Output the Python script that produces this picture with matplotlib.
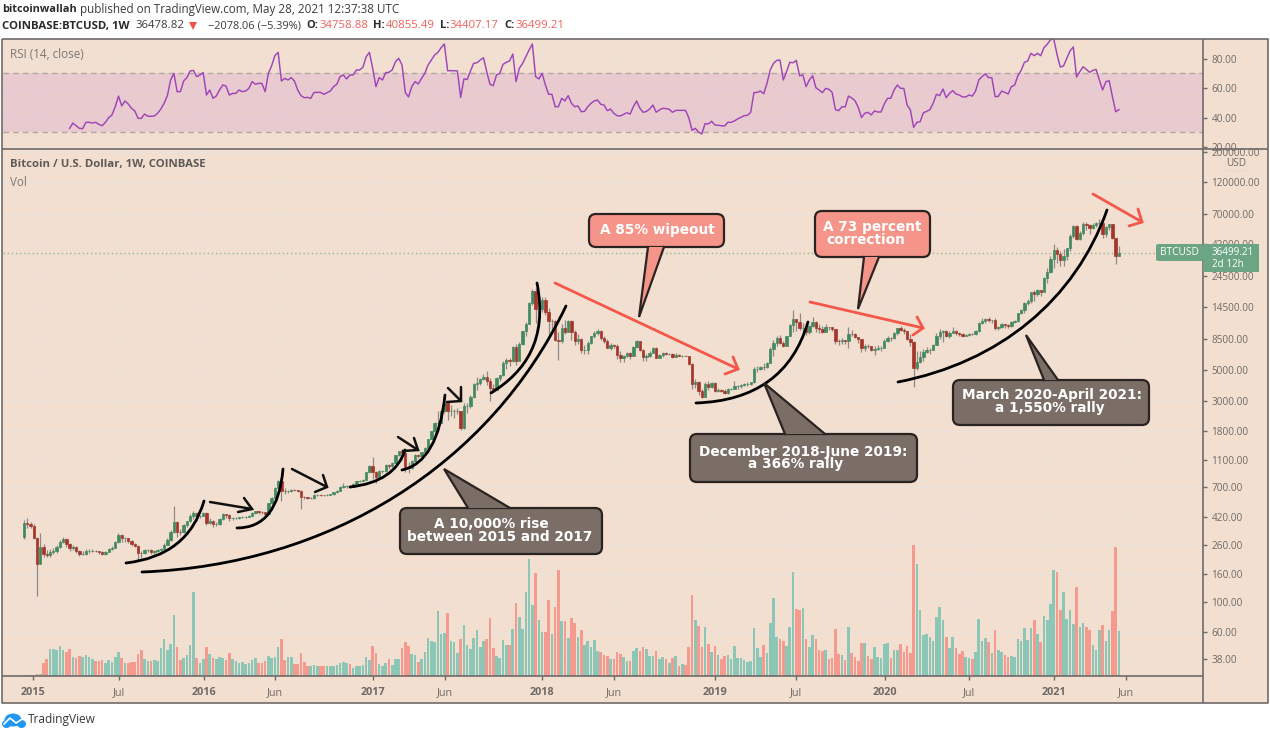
import matplotlib
matplotlib.use("Agg")
import matplotlib.pyplot as plt
import numpy as np
from matplotlib.path import Path
from matplotlib.patches import PathPatch, FancyBboxPatch, Polygon, Ellipse, Rectangle
from matplotlib.ticker import FixedLocator, FormatStrFormatter, NullLocator

plt.rcParams['font.family'] = ['Open Sans', 'DejaVu Sans']

first_open = 300
closes = [
380,372,360,295,190,255,226,222,232,238,
255,275,288,265,250,255,237,224,226,236,
238,238,236,232,226,233,245,250,275,310,
292,292,280,265,258,230,228,240,240,232,
235,240,246,262,285,325,385,328,325,365,
390,430,450,425,430,450,380,395,370,375,
405,440,436,410,412,415,418,420,422,428,
450,462,458,455,445,530,575,690,765,655,
650,650,665,660,655,590,585,575,578,610,
610,607,605,612,618,640,655,700,705,705,
700,735,765,775,790,900,1000,900,825,920,
920,1015,1000,1050,1190,1270,1230,970,960,1090,
1190,1180,1250,1350,1570,1800,2050,2050,2500,2900,
2500,2500,2500,2500,1900,2750,2750,3200,4000,4050,
4350,4500,4200,3700,3600,4400,4600,5700,6000,5900,
7400,5900,7800,9700,11000,15500,19000,14000,14000,16500,
13500,11500,11500,8300,8200,10300,9600,11500,9500,8200,
8500,7000,7000,8000,8900,9400,9700,8700,8200,7350,
7700,7500,6500,6200,6400,6700,6350,7400,8200,7000,
6300,6400,6700,7300,6200,6500,6700,6600,6600,6300,
6500,6400,6400,6350,5600,4000,4100,3500,3200,4000,
3800,4030,3550,3600,3550,3420,3650,3650,3830,3850,
3920,4000,4000,4100,5150,5150,5300,5250,5700,7200,
8000,8700,8000,7600,8950,10800,11900,11400,10300,10300,
9500,10500,11300,10300,10100,9600,10400,10350,10000,8200,
8150,8300,8200,9250,9200,8800,8500,7300,7550,7500,
7100,7150,7300,7350,8200,8700,8600,9350,10150,9900,
9700,8500,8050,5200,5800,6250,6850,7000,7100,7700,
8900,9500,9700,8900,9450,9700,9450,9300,9000,9070,
9240,9200,9700,11100,11600,11850,11650,11700,10250,10450,
10950,10750,10670,11300,11500,13100,13760,15500,16100,18700,
18200,19400,18800,23800,26500,33000,38200,36000,32300,34300,
39200,48600,57500,46300,51000,59000,58000,55800,58000,60000,
60000,50100,56600,58800,46800,34758.88,36499.21]

highs = [
400,410,385,375,300,320,265,240,245,250,
262,285,300,295,272,262,258,240,236,245,
246,243,242,238,235,238,250,256,282,318,
316,300,296,285,272,262,236,244,246,243,
240,245,250,270,295,335,505,390,340,372,
395,440,465,460,437,460,455,410,400,385,
412,448,445,440,420,420,422,425,425,432,
455,468,465,462,458,535,585,700,790,770,
680,665,670,675,665,660,595,590,585,615,
620,615,612,618,622,645,660,705,740,715,
715,740,775,780,795,905,1010,1150,910,925,
930,1025,1030,1060,1200,1290,1330,1260,1060,1100,
1210,1210,1265,1360,1580,1810,2090,2500,2520,2980,
3000,2800,2620,2650,2530,2900,2880,3280,4050,4480,
4400,4700,4980,4400,3980,4450,4650,5850,6200,6180,
7500,7850,8100,9800,11400,16000,19900,20000,16500,17200,
17200,14300,12000,11800,9500,10900,11800,11700,11700,9900,
9200,8700,7700,8200,9000,9800,10000,9900,8880,8500,
7900,7800,7750,6900,6500,6800,6850,7500,8300,8250,
7200,6600,6880,7400,7400,6600,6800,6800,6750,6650,
6700,6600,6480,6500,6400,5650,4350,4200,3650,4100,
4200,4100,4080,3700,3660,3620,3700,3700,4200,3920,
3970,4030,4100,4140,5300,5420,5370,5650,5750,7450,
8300,8950,9080,8200,9000,10950,13800,12000,13200,11100,
10650,10700,12300,11500,10950,10650,10900,10450,10350,10050,
8500,8700,8400,10350,9950,9400,8850,8500,7850,7750,
7500,7540,7650,7500,8450,9000,8800,9500,10200,10500,
10250,9750,9200,8150,6900,6950,7200,7450,7250,7780,
9450,10050,9950,9900,9740,10400,9950,9600,9340,9300,
9350,9350,9850,11400,12050,12100,12400,11800,12050,10600,
11200,11000,10950,11450,11730,13200,14000,15900,16600,18950,
19500,19900,19400,24300,28400,34800,42000,40100,37800,38700,
39700,49700,58300,58400,52500,61800,61700,58900,60000,61200,
64900,61500,57200,59500,59500,46700,40855.49]

lows = [
290,350,350,290,110,205,215,212,215,225,
230,250,270,255,235,240,230,216,220,222,
230,232,232,225,220,222,236,240,250,270,
275,276,272,258,255,198,210,225,232,225,
226,232,238,244,260,280,320,300,310,322,
355,388,405,400,415,425,365,370,355,360,
366,400,410,395,402,408,408,412,415,418,
425,445,440,445,432,440,520,565,680,550,
620,630,640,650,640,480,570,565,565,570,
600,600,595,600,608,612,630,650,685,680,
680,695,730,760,770,785,880,800,750,815,
885,900,950,985,1040,1180,1100,900,890,950,
1060,1130,1160,1230,1330,1560,1740,1800,2050,2450,
2150,2300,2250,2380,1830,1850,2450,2650,3150,3600,
3900,4250,3900,3000,3550,3560,4150,4550,5150,5400,
5800,5500,5950,7700,8900,10900,15000,11200,12700,13400,
12800,9300,9950,8200,5950,8000,9300,9500,8400,7700,
7750,6650,6550,6600,7800,8700,9100,8300,7900,7250,
7050,7350,6100,5750,5750,6250,6100,6350,7350,6900,
5900,5850,6300,6700,6150,6150,6300,6450,6450,6200,
6250,6350,6250,6330,5500,3650,3700,3300,3120,3170,
3600,3700,3450,3480,3480,3360,3380,3600,3630,3650,
3700,3850,3850,3920,4050,4900,5020,5000,5200,5650,
6350,7500,7800,7450,7500,8900,9600,9700,9850,9100,
9150,9250,10450,9500,9350,9350,9600,9950,9700,7800,
7700,7780,7850,7300,8900,8650,8000,6800,6950,7250,
6900,6450,7050,6900,7280,8100,8250,8550,9150,9650,
9300,8400,7600,3800,5050,5650,5900,6750,6600,7000,
7700,8500,8100,8800,8700,9350,9100,8900,8830,8900,
8950,9050,9130,9600,10950,11100,11300,11100,9900,9880,
10200,10150,10300,10450,11150,11350,12900,13200,15000,15700,
16200,17600,17600,18700,21900,26000,28000,30500,29000,29300,
32300,37500,47000,44900,44900,49300,53300,50400,54800,56500,
58400,47000,47500,53200,46000,30000,34407.17]

volumes = [
1,1,1,1,2,2,
13,17,27,27,26,30,26,24,27,19,
18,20,19,21,19,17,15,15,16,13,
16,14,19,24,18,13,13,14,14,22,
26,17,15,15,16,15,28,37,26,32,
61,29,16,18,21,31,84,18,13,17,
29,22,18,17,19,18,16,23,17,15,
13,14,12,13,16,18,13,13,15,20,
18,19,29,37,16,19,19,12,12,23,
14,10,10,11,10,10,10,10,10,10,
11,13,14,13,12,8,10,10,11,19,
16,30,23,12,10,13,17,11,17,17,
28,34,30,22,21,14,
17,24,38,35,34,65,42,43,63,35,
34,23,37,51,31,27,38,46,29,35,
37,58,28,20,18,36,31,31,47,73,
59,47,84,117,71,103,56,44,44,76,
42,69,106,55,55,38,58,53,39,46,
31,35,29,36,25,24,21,20,17,17,
24,22,19,15,15,25,28,25,29,27,
20,20,25,17,19,17,13,18,20,10,
12,11,29,81,56,50,29,49,32,24,
30,21,17,20,21,17,30,18,18,16,
14,15,48,28,19,31,23,53,78,39,
37,35,30,49,104,67,66,68,37,29,
41,37,26,
25,26,17,18,47,22,21,16,49,23,
19,15,33,33,20,17,29,19,18,32,
33,18,26,26,32,24,30,23,131,112,
66,41,42,39,35,59,69,56,39,28,
39,28,22,25,19,18,17,24,57,35,
38,34,23,46,26,24,21,19,20,19,
37,35,48,36,48,56,42,34,60,56,
72,106,104,66,84,57,66,52,89,49,
53,49,46,31,26,46,51,35,46,65,
129,45]

rsi = [
32.7,36.3,34.5,32.7,32.5,36.8,36.8,36.3,36.8,35.4,34.5,36.8,40,41.8,47.4,54.6,47.9,51.3,49.2,46.3,
44.5,39.5,39.5,42.4,40.9,40.9,41.1,42.9,45.8,49.7,54.9,65.5,70,57.6,57.6,64.8,67.1,71.6,72,67.8,
68.9,70.5,55.3,58.7,53.1,54.6,58.7,62.1,61.4,55.3,56.4,56.4,58.7,57.6,58,59.8,64.4,62.6,63.2,63.2,
57.6,70,75.2,82,84.2,64.8,66.6,65.5,67.1,64.8,58.7,54.9,53.5,53.7,53.1,57.1,57.1,57.1,55.8,56.9,
58,61,62.6,67.8,68.9,66.2,68.9,68.9,72.3,72.3,74.1,81.3,84.2,73.4,61,67.1,65.5,70.5,70.7,72.3,
77.9,80.2,75.7,57.1,54,61,64.4,62.8,66.6,70,75.7,79,82.4,84.2,87.4,89.9,71.8,71.8,71.8,71.6,
53.7,66.2,65.9,71.6,76.8,77.2,79,80.6,71.1,62.6,61.6,68.9,70,76.1,77.5,78.4,83.1,64.4,73.4,76.8,
81.3,85.8,89.9,67.8,66.2,70,62.1,55.8,55.8,47.4,47.4,53.1,51.3,54.9,49.7,47.4,47.9,44,44.2,47.4,
49.7,51.3,51.9,49,48.5,44.7,45.8,42.9,41.3,41.1,42.2,43.3,42.4,47.4,51.3,46.3,43.6,44.2,
45.8,48.5,43.6,45.2,46.3,46.1,45.6,43.6,44.9,44.9,44.9,44.9,40,31.4,32.7,30.2,28.9,35.9,35.7,37.5,
35,34.8,34.5,34.3,36.8,36.8,37.7,39.1,40.2,41.3,41.5,43.6,56.9,57.1,58,56.2,63.2,72.3,76.8,78.8,
79,65.5,71.1,77.5,77.2,78.8,68.4,68.9,61,65.5,68.4,60.3,58.7,56.9,59.8,59.2,57.1,45.4,44.7,47.4,
47.2,54.6,53.3,51.5,47,40,42.9,43.6,41.8,44.5,43.8,43.8,49.2,53.1,53.1,58.7,62.1,59.8,59.8,48.5,
45.2,33.4,36.8,37.2,43.3,44.2,45.4,49.7,55.8,
54.9,59.4,53.5,56.4,58.3,56,55.3,54,54,55.3,54.6,58,65.5,67.8,69.6,67.1,67.1,54.2,54.4,58,
57.1,56,61,62.1,68.4,72,77.5,78.4,83.6,82,83.6,82,87.4,89.7,92.8,93.3,82.9,74.3,75,80.2,
85.2,87.9,67.5,71.1,74.5,72.7,70.7,72,72.7,65.5,58.7,64.4,65,54.2,44,45.4]

price_ticks = [38,60,100,160,260,420,700,1100,1800,3000,5000,8500,14500,24500,42000,70000,120000,200000]
rsi_ticks = [20,40,60,80]
time_ticks = [2.8,29.1,55.2,77,107,129.2,158.9,181,212,236.9,264.2,290,316,338.1]
time_labels = ['2015','Jul','2016','Jun','2017','Jun','2018','Jun','2019','Jul','2020','Jul','2021','Jun']

n = len(closes)
if not (len(highs) == n and len(lows) == n and len(volumes) == n):
    raise SystemExit(f"lengths {len(closes)} {len(highs)} {len(lows)} {len(volumes)} {len(rsi)}")

W, H = 1270, 731
BG = '#f2dfcf'
GRID = '#ece2da'
FRAME = '#6e6a68'
AX_TXT = '#6f6a68'
GREEN = '#3f8a60'
RED = '#a5352a'
V_GREEN = '#8cc6b6'
V_RED = '#f59a8e'
LINE_RED = '#f5574a'
AX_SIZE = 7.2

fig = plt.figure(figsize=(W / 100, H / 100), dpi=100, facecolor='white')

def rect(l, t, r, b):
    return [l / W, 1 - b / H, (r - l) / W, (b - t) / H]

bg = fig.add_axes([0, 0, 1, 1], zorder=0)
bg.set_xlim(0, W); bg.set_ylim(H, 0); bg.axis('off')
bg.add_patch(Rectangle((2, 39), 1266, 664, fc=BG, ec='none'))

x = np.arange(n)
XLIM = (-6.44, 361.8)

# RSI panel
ax_r = fig.add_axes(rect(3, 39, 1203, 149), zorder=2)
ax_r.patch.set_alpha(0)
ax_r.set_xlim(*XLIM); ax_r.set_ylim(18.7, 93.3)
ax_r.axhspan(30, 70, color='#d8a8cf', alpha=0.38, lw=0, zorder=1)
ax_r.axhline(70, color='#b3a7a3', ls=(0, (4, 3)), lw=1, zorder=2)
ax_r.axhline(30, color='#b3a7a3', ls=(0, (4, 3)), lw=1, zorder=2)
ax_r.plot(np.arange(n - len(rsi), n), rsi, color='#9f45b8', lw=1.05, zorder=3)
ax_r.yaxis.tick_right()
ax_r.yaxis.set_major_locator(FixedLocator(rsi_ticks))
ax_r.yaxis.set_major_formatter(FormatStrFormatter('%.2f'))
ax_r.set_xticks(time_ticks); ax_r.set_xticklabels([])
ax_r.tick_params(axis='x', length=0)
ax_r.tick_params(axis='y', length=3, width=1, color=FRAME, labelcolor=AX_TXT, labelsize=AX_SIZE, pad=3)
ax_r.grid(True, color=GRID, lw=1, zorder=0); ax_r.set_axisbelow(True)
for s in ax_r.spines.values():
    s.set_visible(False)

# price pane
opens = [first_open] + closes[:-1]
ax_p = fig.add_axes(rect(3, 150, 1203, 676), zorder=3)
ax_p.patch.set_alpha(0)
ax_p.set_yscale('log')
ax_p.set_xlim(*XLIM); ax_p.set_ylim(28.6, 207000)
ax_p.yaxis.tick_right()
ax_p.yaxis.set_major_locator(FixedLocator(price_ticks))
ax_p.yaxis.set_minor_locator(NullLocator())
ax_p.yaxis.set_major_formatter(FormatStrFormatter('%.2f'))
ax_p.set_xticks(time_ticks); ax_p.set_xticklabels([])
ax_p.tick_params(axis='x', length=0)
ax_p.tick_params(axis='y', length=3, width=1, color=FRAME, labelcolor=AX_TXT, labelsize=AX_SIZE, pad=3)
ax_p.grid(True, color=GRID, lw=1, zorder=0); ax_p.set_axisbelow(True)
for s in ax_p.spines.values():
    s.set_visible(False)
cols = [GREEN if c >= o else RED for o, c in zip(opens, closes)]
ax_p.vlines(x, lows, highs, color='#8f8a86', lw=0.9, zorder=3)
bot = np.minimum(opens, closes)
top = np.maximum(opens, closes)
ax_p.bar(x, top - bot, bottom=bot, width=0.72, color=cols, edgecolor=cols, lw=0.5, zorder=4)
ax_p.axhline(closes[-1], color='#8fb89a', ls=(0, (1, 2)), lw=1, zorder=2)

# volume, same frame as the price pane, above its grid
ax_v = fig.add_axes(rect(3, 150, 1203, 676), zorder=4)
ax_v.patch.set_alpha(0)
ax_v.set_xlim(*XLIM); ax_v.set_ylim(0, 526)
vcols = [V_GREEN if c >= o else V_RED for o, c in zip(opens, closes)]
ax_v.bar(x, volumes, width=0.8, color=vcols, lw=0, zorder=2)
ax_v.set_yticks([])
ax_v.set_xticks(time_ticks)
ax_v.set_xticklabels(time_labels)
for lab in ax_v.get_xticklabels():
    if lab.get_text().isdigit():
        lab.set_fontweight('bold')
ax_v.tick_params(axis='x', length=3, width=1, color=FRAME, labelcolor=AX_TXT, labelsize=7.8, pad=5)
for s in ax_v.spines.values():
    s.set_visible(False)

# overlay in pixel space: frame, texts, drawings
ov = fig.add_axes([0, 0, 1, 1], zorder=10)
ov.set_xlim(0, W); ov.set_ylim(H, 0); ov.axis('off')
for xs, ys in [((2, 1268, 1268, 2, 2), (39, 39, 703, 703, 39)),
               ((2, 1268), (149, 149)), ((2, 1203), (676, 676)), ((1203, 1203), (39, 703))]:
    ov.plot(xs, ys, color=FRAME, lw=1.2, solid_capstyle='butt', zorder=1)

HDR = '#3b3b3b'
def t(px, py, s, **k):
    k.setdefault('va', 'center'); k.setdefault('ha', 'left')
    k.setdefault('fontsize', 8.4); k.setdefault('color', HDR)
    return ov.text(px, py, s, **k)

t(2, 10, 'bitcoinwallah', fontweight='bold', color='#2a2a2a', fontsize=7.9)
t(80, 10, 'published on TradingView.com, May 28, 2021 12:37:38 UTC')
t(2, 26, 'COINBASE:BTCUSD, 1W', fontweight='bold', color='#2a2a2a', fontsize=8.2)
t(135.5, 26, '36478.82', fontsize=8.2)
ov.add_patch(Polygon([(189, 22), (197, 22), (193, 30)], fc='#ef5350', ec='none'))
t(208, 26, '\u22122078.06 (\u22125.39%)', fontsize=7.9)
REDTXT = '#f0625a'
for lx, lab, vx, val in [(306, 'O:', 320, '34758.88'), (373, 'H:', 386, '40855.49'),
                         (440, 'L:', 450, '34407.17'), (504, 'C:', 515, '36499.21')]:
    t(lx, 26, lab, fontweight='bold', color='#2a2a2a', fontsize=8.0)
    t(vx, 26, val, color=REDTXT, fontsize=8.2)

t(10, 55, 'RSI (14, close)', color='#7d7875', fontsize=8.4)
t(10, 165, 'Bitcoin / U.S. Dollar, 1W, COINBASE', color='#5e5a58', fontweight='bold', fontsize=8.2)
t(10, 182, 'Vol', color='#7d7875', fontsize=8.4)

# USD button
ov.add_patch(FancyBboxPatch((1226, 158), 20, 13, boxstyle='round,pad=0,rounding_size=3', fc=BG, ec='#e8dcd3', lw=1, zorder=2))
t(1236, 164, 'USD', ha='center', color='#6f6a68', fontsize=7.2, zorder=3)

# last price labels
ov.add_patch(FancyBboxPatch((1156, 244), 47, 17, boxstyle='round,pad=0,rounding_size=2', fc='#6ba583', ec='none', zorder=2))
t(1179, 252.5, 'BTCUSD', ha='center', color='white', fontsize=7.3, zorder=3)
ov.add_patch(Rectangle((1203, 244), 56, 28, fc='#6ba583', ec='none', zorder=2))
t(1212, 252.5, '36499.21', color='white', fontsize=7.1, zorder=3)
t(1212, 264.5, '2d 12h', color='white', fontsize=7.1, zorder=3)

# logo
BLUE = '#2196f3'
ov.add_patch(Ellipse((13, 720), 17, 13, fc=BLUE, ec='none'))
ov.add_patch(Ellipse((6.5, 724), 9, 8, fc=BLUE, ec='none'))
ov.add_patch(Ellipse((21.5, 724), 9, 8, fc=BLUE, ec='none'))
ov.plot([4, 10, 16, 24], [724, 718, 723, 718], color='white', lw=1.2)
t(28, 720, 'TradingView', color='#3a3a3a', fontsize=8.6)

def curve(pts, color='black', lw=2.0):
    code = {3: Path.CURVE3, 4: Path.CURVE4}[len(pts)]
    p = Path(pts, [Path.MOVETO] + [code] * (len(pts) - 1))
    ov.add_patch(PathPatch(p, fc='none', ec=color, lw=lw, capstyle='round', zorder=4))

curve([(126, 563), (188, 556), (204, 501)])
curve([(237, 528), (278, 528), (283, 469)])
curve([(142, 572), (330, 565), (490, 465), (566, 306)])
curve([(350, 487), (395, 482), (405, 450)])
curve([(402, 470), (438, 462), (445, 395)])
curve([(491, 393), (525, 372), (548, 340), (537, 283)])
curve([(696, 403), (785, 400), (808, 322)])
curve([(898, 382), (1000, 362), (1075, 300), (1107, 210)])

def arrow(a, b, b1, b2, color='#111111', lw=1.8):
    ov.plot([a[0], b[0]], [a[1], b[1]], color=color, lw=lw, zorder=5, solid_capstyle='round')
    ov.plot([b1[0], b[0], b2[0]], [b1[1], b[1], b2[1]], color=color, lw=lw, zorder=5,
            solid_capstyle='round', solid_joinstyle='miter')

arrow((210, 502), (252, 509), (244, 498), (238, 512))
arrow((292, 469), (327, 487), (323, 475), (315, 492))
arrow((398, 437), (418, 450), (414, 438), (403, 451))
arrow((448, 388), (461, 401), (461, 387), (447, 402))
arrow((555, 283), (738, 369), (733, 357), (725, 374), color=LINE_RED, lw=2)
arrow((810, 302), (923, 328), (917, 317), (913, 335), color=LINE_RED, lw=2)
arrow((1093, 194), (1142, 222), (1138, 209), (1129, 226), color=LINE_RED, lw=2)

def callout(l, t_, r, b, base1, base2, tip, fc, lines):
    edge = '#2b2321'
    ov.add_patch(FancyBboxPatch((l, t_), r - l, b - t_, boxstyle='round,pad=0,rounding_size=7',
                                fc=fc, ec=edge, lw=1.6, zorder=6))
    y0 = t_ if tip[1] < t_ else b
    ov.add_patch(Polygon([(base1, y0), (base2, y0), tip], closed=True, fc=fc, ec='none', zorder=7))
    ov.plot([base1, tip[0], base2], [y0, tip[1], y0], color=edge, lw=1.6, zorder=8, solid_joinstyle='miter')
    for (px, py, s) in lines:
        ov.text(px, py, s, color='white', family='DejaVu Sans', fontweight='bold', fontsize=9.8,
                ha='center', va='center', zorder=9)

SAL = '#f5958a'
GRY = '#7a6e67'
callout(589, 214, 724, 247, 648, 664, (639, 317), SAL, [(657, 230, 'A 85% wipeout')])
callout(815, 211, 930, 257, 864, 879, (858, 309), SAL, [(872, 227, 'A 73 percent'), (866, 240, 'correction')])
callout(400, 508, 602, 554, 468, 510, (444, 469), GRY, [(491, 524, 'A 10,000% rise'), (500, 537, 'between 2015 and 2017')])
callout(690, 434, 917, 482, 785, 825, (764, 383), GRY, [(803, 452, 'December 2018-June 2019:'), (796, 464, 'a 366% rally')])
callout(953, 380, 1149, 425, 1044, 1058, (1026, 335), GRY, [(1052, 395, 'March 2020-April 2021:'), (1050, 408, 'a 1,550% rally')])

fig.savefig('out.png', dpi=100)
